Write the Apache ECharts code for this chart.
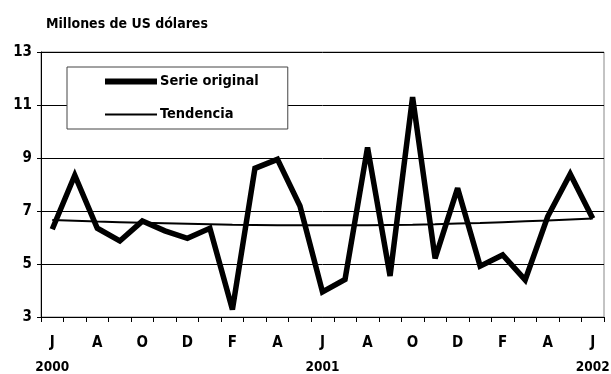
<!DOCTYPE html>
<html>
<head>
<meta charset="utf-8">
<script src="https://cdn.jsdelivr.net/npm/echarts@6/dist/echarts.min.js"></script>
<style>
  html, body { margin: 0; padding: 0; background: #fff; }
  #chart { width: 611px; height: 374px; }
</style>
</head>
<body>
<div id="chart"></div>
<script>
// meses jun 2000 - jun 2002
const months = ["J","J","A","S","O","N","D","E","F","M","A","M",
                "J","J","A","S","O","N","D","E","F","M","A","M","J"];
const yearLabels = { 0: "2000", 12: "2001", 24: "2002" };

const serieOriginal = [6.31, 8.35, 6.35, 5.87, 6.62, 6.25, 5.97, 6.35, 3.28, 8.61, 8.95, 7.19,
                       3.95, 4.42, 9.40, 4.55, 11.30, 5.21, 7.86, 4.92, 5.34, 4.40, 6.79, 8.40, 6.72];
const tendencia = [6.66, 6.63, 6.60, 6.58, 6.56, 6.54, 6.52, 6.50, 6.48, 6.47, 6.46, 6.46,
                   6.46, 6.46, 6.46, 6.47, 6.48, 6.50, 6.53, 6.55, 6.58, 6.61, 6.64, 6.68, 6.72];

const yTicks = { min: 3, max: 13, interval: 2 };

const FONT = "'DejaVu Sans Condensed', 'Liberation Sans Narrow', sans-serif";

const chart = echarts.init(document.getElementById("chart"));

chart.setOption({
  animation: false,
  backgroundColor: "#fff",
  title: {
    text: "Millones de US dólares",
    left: 41,
    top: 12,
    textStyle: { fontFamily: FONT, fontSize: 14, fontWeight: "bold", color: "#000" }
  },
  legend: {
    orient: "vertical",
    left: 67,
    top: 67,
    padding: [7, 29, 7, 35],
    itemWidth: 52,
    itemHeight: 14,
    itemGap: 18,
    borderColor: "#444",
    borderWidth: 1,
    backgroundColor: "#fff",
    textStyle: { fontFamily: FONT, fontSize: 14.5, fontWeight: "bold", color: "#000", padding: [0, 0, 0, -2] },
    data: [
      { name: "Serie original", itemStyle: { opacity: 0 }, lineStyle: { width: 6, color: "#000" } },
      { name: "Tendencia", itemStyle: { opacity: 0 }, lineStyle: { width: 2, color: "#000" } }
    ]
  },
  grid: {
    left: 41, right: 7, top: 52, bottom: 57,
    outerBoundsMode: "none",
    show: true, borderColor: "#888", borderWidth: 1
  },
  xAxis: {
    type: "category",
    data: months,
    boundaryGap: true,
    axisLine: { lineStyle: { color: "#000", width: 1 } },
    axisTick: { show: true, interval: 0, length: 5, lineStyle: { color: "#000" } },
    axisLabel: {
      interval: 1,
      margin: 14,
      fontFamily: FONT,
      fontSize: 15,
      fontWeight: "bold",
      color: "#000",
      lineHeight: 24,
      formatter: (v, i) => yearLabels[i] ? v + "\n{yr|" + yearLabels[i] + "}" : v,
      rich: {
        yr: { fontFamily: FONT, fontSize: 13.5, fontWeight: "bold", color: "#000", lineHeight: 24 }
      }
    }
  },
  yAxis: {
    type: "value",
    min: yTicks.min,
    max: yTicks.max,
    interval: yTicks.interval,
    axisLine: { show: true, lineStyle: { color: "#000", width: 1 } },
    axisTick: { show: true, length: 4, lineStyle: { color: "#000" } },
    splitLine: { lineStyle: { color: "#000", width: 1 } },
    axisLabel: {
      margin: 9,
      fontFamily: FONT,
      fontSize: 15,
      fontWeight: "bold",
      color: "#000"
    }
  },
  series: [
    {
      name: "Serie original",
      type: "line",
      data: serieOriginal,
      symbol: "none",
      lineStyle: { color: "#000", width: 5.5, join: "miter", miterLimit: 3 },
      itemStyle: { color: "#000" },
      z: 3
    },
    {
      name: "Tendencia",
      type: "line",
      data: tendencia,
      symbol: "none",
      lineStyle: { color: "#000", width: 2 },
      itemStyle: { color: "#000" },
      z: 2
    }
  ]
});
</script>
</body>
</html>
